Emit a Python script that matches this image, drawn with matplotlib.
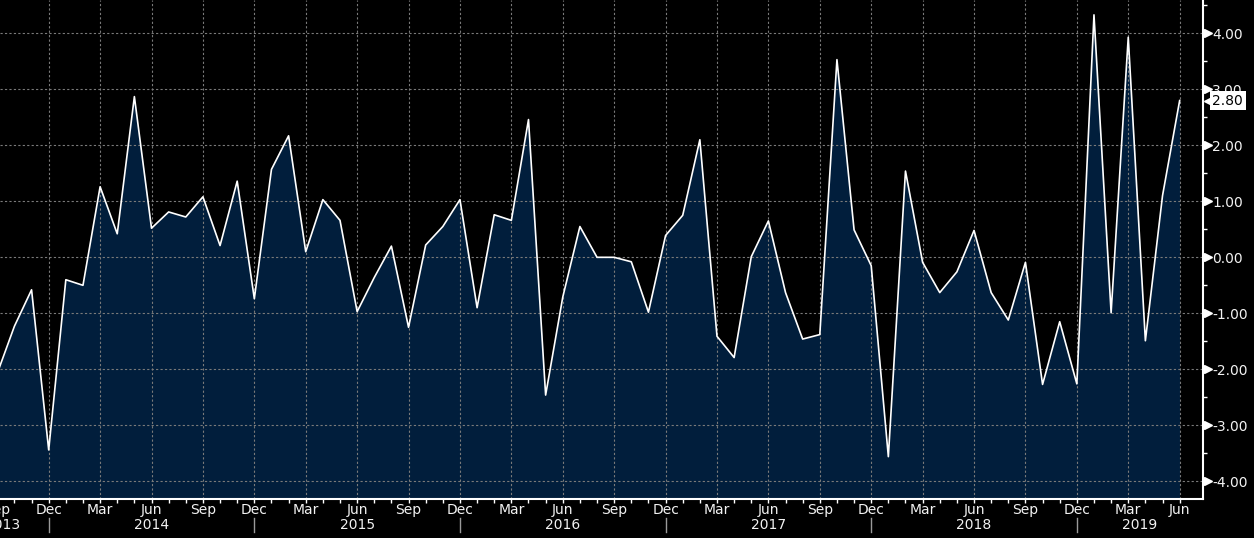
import numpy as np
import pandas as pd
import matplotlib
matplotlib.use("Agg")
import matplotlib.pyplot as plt
from matplotlib.ticker import FixedLocator, NullFormatter

plt.rcParams['font.family'] = ['DejaVu Sans']
plt.rcParams['lines.scale_dashes'] = False

# ---- data (monthly, Sep 2013 .. Jun 2019) ----
start_month = "2013-09"
values = [
    -2.07, -1.23, -0.58, -3.44,                                               # 2013 Sep-Dec
    -0.40, -0.50, 1.26, 0.42, 2.87, 0.52, 0.81, 0.72, 1.08, 0.21, 1.36, -0.74,  # 2014
    1.57, 2.17, 0.10, 1.03, 0.66, -0.97, -0.36, 0.20, -1.25, 0.22, 0.55, 1.03,  # 2015
    -0.90, 0.76, 0.66, 2.46, -2.46, -0.71, 0.55, 0.00, 0.00, -0.08, -0.98, 0.39, # 2016
    0.75, 2.10, -1.41, -1.79, 0.01, 0.65, -0.63, -1.46, -1.38, 3.53, 0.49, -0.15, # 2017
    -3.56, 1.54, -0.09, -0.63, -0.26, 0.48, -0.63, -1.12, -0.09, -2.27, -1.15, -2.26, # 2018
    4.33, -0.99, 3.93, -1.49, 1.10, 2.80,                                      # 2019
]
y_ticks = [-4, -3, -2, -1, 0, 1, 2, 3, 4]
y_minor = [-3.5, -2.5, -1.5, -0.5, 0.5, 1.5, 2.5, 3.5, 4.5]
last_label = "2.80"

months = pd.period_range(start_month, periods=len(values), freq="M")
x = np.arange(len(values))

# ---- style ----
BG = "black"
FILL = "#011e3c"
GRID = "#7a7a7a"
TXT = "#f2f2f2"

W, H = 1254, 538
fig = plt.figure(figsize=(W / 100, H / 100), dpi=100, facecolor=BG)
ax_right_px, ax_bottom_px = 1203.3, 499.0
ax = fig.add_axes([0, 1 - ax_bottom_px / H, ax_right_px / W, ax_bottom_px / H])
ax.set_facecolor(BG)

ymin, ymax = -4.316, 4.595
xmin, xmax = 0.158, 70.38
ax.set_xlim(xmin, xmax)
ax.set_ylim(ymin, ymax)

ax.fill_between(x, values, ymin, color=FILL, lw=0, zorder=1)
ax.plot(x, values, color="white", lw=1.2, zorder=3)

# spines
for s in ("left", "top"):
    ax.spines[s].set_visible(False)
for s in ("bottom", "right"):
    ax.spines[s].set_color("white")
    ax.spines[s].set_linewidth(1.5)
    ax.spines[s].set_zorder(4)

# x ticks: every month minor, quarterly major (grid)
quarter_idx = [i for i, m in enumerate(months) if m.month in (3, 6, 9, 12)]
ax.xaxis.set_major_locator(FixedLocator(quarter_idx))
ax.xaxis.set_minor_locator(FixedLocator(list(x)))
ax.xaxis.set_major_formatter(NullFormatter())
ax.tick_params(axis="x", which="both", direction="out", length=3, width=1, color="white")

# y axis on right
ax.yaxis.tick_right()
ax.yaxis.set_major_locator(FixedLocator(y_ticks))
ax.yaxis.set_minor_locator(FixedLocator(y_minor))
ax.set_yticklabels([f"{v:.2f}" for v in y_ticks])
ax.tick_params(axis="y", which="major", length=0, pad=6.3, labelsize=10, labelcolor=TXT)
ax.tick_params(axis="y", which="minor", direction="out", length=3, width=1, color="white")

ax.grid(True, which="major", color=GRID, lw=0.8, linestyle=(0, (1.6, 1.6)), zorder=2)

# triangles at major y ticks
ytr = ax.get_yaxis_transform()
ax.plot(np.full(len(y_ticks), 1 + 4.5 / ax_right_px), y_ticks, ls="none", marker=">",
        ms=6, color="white", mec="white", transform=ytr, clip_on=False, zorder=5)

# month labels and year labels
xtr = ax.get_xaxis_transform()
px_per_y = ax_bottom_px  # axes height in pixels
month_y = -(509.7 - ax_bottom_px) / px_per_y
year_y = -(524.7 - ax_bottom_px) / px_per_y
for i in quarter_idx:
    ax.text(x[i], month_y, months[i].strftime("%b"), transform=xtr, ha="center", va="center",
            color=TXT, fontsize=10, clip_on=False)

# year labels centred in the visible span between December separators
dec_idx = [i for i, m in enumerate(months) if m.month == 12]
years = sorted(set(m.year for m in months))
for yr in years:
    if yr == years[0]:
        cx = 0.33
    else:
        left = [i for i in dec_idx if months[i].year == yr - 1][0]
        rights = [i for i in dec_idx if months[i].year == yr]
        right = rights[0] if rights else xmax
        cx = (left + right) / 2
    ax.text(cx, year_y, str(yr), transform=xtr, ha="center", va="center",
            color=TXT, fontsize=10, clip_on=False)
sep_top = -(518 - ax_bottom_px) / px_per_y
sep_bot = -(532 - ax_bottom_px) / px_per_y
for i in dec_idx:
    ax.plot([x[i], x[i]], [sep_top, sep_bot], transform=xtr, color="#9a9a9a", lw=1,
            clip_on=False)

# last value label
ax.plot([1 + 5.5 / ax_right_px], [values[-1]], marker="<", ms=7, color="white", mec="white",
        transform=ytr, clip_on=False, zorder=6)
ax.text(1 + 9.0 / ax_right_px, values[-1], last_label, transform=ytr, ha="left", va="center",
        color="black", fontsize=10, clip_on=False, zorder=6,
        bbox=dict(boxstyle="square,pad=0.18", fc="white", ec="none"))

fig.savefig("out.png", dpi=100, facecolor=BG)
